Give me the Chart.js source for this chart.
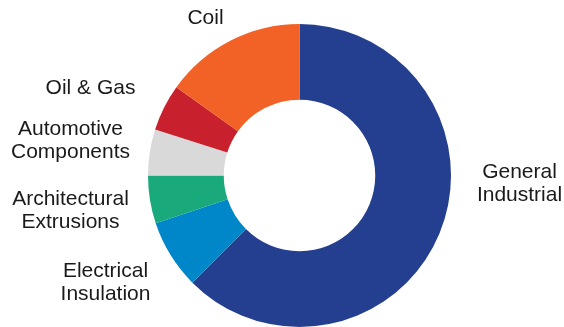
<!DOCTYPE html>
<html>
<head>
<meta charset="utf-8">
<script src="https://cdn.jsdelivr.net/npm/chart.js@4/dist/chart.umd.min.js"></script>
<style>
  html, body { margin: 0; padding: 0; background: #fff; }
  #wrap { width: 564px; height: 327px; position: relative; }
</style>
</head>
<body>
<div id="wrap"><canvas id="c" width="564" height="327"></canvas></div>
<script>
const categories = ["General Industrial", "Electrical Insulation", "Architectural Extrusions", "Automotive Components", "Oil & Gas", "Coil"];
const labelLines = [["General", "Industrial"], ["Electrical", "Insulation"], ["Architectural", "Extrusions"], ["Automotive", "Components"], ["Oil & Gas"], ["Coil"]];
const shares = [62.5, 7.4, 5.1, 4.9, 5.0, 15.1];
const colors = ["#243F8F", "#0087C9", "#19A97B", "#D9D9D9", "#C9202E", "#F26226"];

// label anchor offsets (px) relative to the doughnut centre: layout only
const labelOffsets = [[220, 8], [-194, 107], [-229, 35], [-229, -35], [-209, -87], [-94, -157]];

const outsideLabels = {
  id: 'outsideLabels',
  afterDraw(chart) {
    const meta = chart.getDatasetMeta(0);
    const arc0 = meta.data[0];
    const cx = arc0.x, cy = arc0.y;
    const ctx = chart.ctx;
    ctx.save();
    ctx.font = '21px "Liberation Sans", Arial, sans-serif';
    ctx.fillStyle = '#1a1a1a';
    ctx.textAlign = 'center';
    ctx.textBaseline = 'middle';
    const lh = 23.5;
    chart.data.labels.forEach((_, i) => {
      const lines = labelLines[i];
      const [ox, oy] = labelOffsets[i];
      const startY = cy + oy - (lines.length - 1) * lh / 2;
      lines.forEach((ln, j) => ctx.fillText(ln, cx + ox, startY + j * lh));
    });
    ctx.restore();
  }
};

new Chart(document.getElementById('c'), {
  type: 'doughnut',
  data: {
    labels: categories,
    datasets: [{ data: shares, backgroundColor: colors, borderWidth: 0 }]
  },
  options: {
    responsive: false,
    animation: false,
    cutout: '50%',
    layout: { padding: { top: 24, bottom: 0, left: 35, right: 0 } },
    plugins: { legend: { display: false }, tooltip: { enabled: false } }
  },
  plugins: [outsideLabels]
});
</script>
</body>
</html>
